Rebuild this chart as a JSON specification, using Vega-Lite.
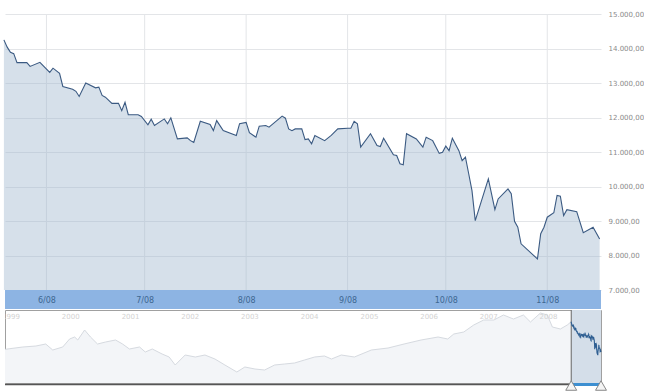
{
  "$schema": "https://vega.github.io/schema/vega-lite/v6.json",
  "padding": {"left": 1, "top": 10, "right": 0, "bottom": 0},
  "background": "white",
  "spacing": 0,
  "config": {
    "locale": {"number": {"decimal": ",", "thousands": ".", "grouping": [3], "currency": ["", ""]}},
    "font": "DejaVu Sans",
    "view": {"stroke": null},
    "concat": {"spacing": 0},
    "axis": {"labelOverlap": false},
    "axisY": {"labelOverlap": false, "tickCount": 9}
  },
  "datasets": {
    "main": [
      {"date": "2008-05-19", "value": 14250}, {"date": "2008-05-20", "value": 14040}, {"date": "2008-05-21", "value": 13890},
      {"date": "2008-05-22", "value": 13850}, {"date": "2008-05-23", "value": 13590}, {"date": "2008-05-26", "value": 13590},
      {"date": "2008-05-27", "value": 13480}, {"date": "2008-05-30", "value": 13600}, {"date": "2008-06-02", "value": 13310},
      {"date": "2008-06-03", "value": 13430}, {"date": "2008-06-05", "value": 13280}, {"date": "2008-06-06", "value": 12900},
      {"date": "2008-06-09", "value": 12820}, {"date": "2008-06-10", "value": 12760}, {"date": "2008-06-11", "value": 12610},
      {"date": "2008-06-13", "value": 13000}, {"date": "2008-06-16", "value": 12860}, {"date": "2008-06-17", "value": 12880},
      {"date": "2008-06-18", "value": 12640}, {"date": "2008-06-19", "value": 12590}, {"date": "2008-06-21", "value": 12410},
      {"date": "2008-06-23", "value": 12410}, {"date": "2008-06-24", "value": 12200}, {"date": "2008-06-25", "value": 12440},
      {"date": "2008-06-26", "value": 12080}, {"date": "2008-06-29", "value": 12080}, {"date": "2008-06-30", "value": 12030},
      {"date": "2008-07-02", "value": 11790}, {"date": "2008-07-03", "value": 11950}, {"date": "2008-07-04", "value": 11770},
      {"date": "2008-07-07", "value": 11960}, {"date": "2008-07-08", "value": 11820}, {"date": "2008-07-09", "value": 11990},
      {"date": "2008-07-11", "value": 11380}, {"date": "2008-07-14", "value": 11410}, {"date": "2008-07-15", "value": 11330},
      {"date": "2008-07-16", "value": 11280}, {"date": "2008-07-18", "value": 11890}, {"date": "2008-07-21", "value": 11800},
      {"date": "2008-07-22", "value": 11620}, {"date": "2008-07-23", "value": 11910}, {"date": "2008-07-25", "value": 11620},
      {"date": "2008-07-29", "value": 11480}, {"date": "2008-07-30", "value": 11820}, {"date": "2008-08-01", "value": 11860},
      {"date": "2008-08-02", "value": 11560}, {"date": "2008-08-04", "value": 11430}, {"date": "2008-08-05", "value": 11750},
      {"date": "2008-08-07", "value": 11770}, {"date": "2008-08-08", "value": 11720}, {"date": "2008-08-12", "value": 12040},
      {"date": "2008-08-13", "value": 11980}, {"date": "2008-08-14", "value": 11670}, {"date": "2008-08-15", "value": 11620},
      {"date": "2008-08-16", "value": 11670}, {"date": "2008-08-18", "value": 11670}, {"date": "2008-08-19", "value": 11360},
      {"date": "2008-08-20", "value": 11380}, {"date": "2008-08-21", "value": 11240}, {"date": "2008-08-22", "value": 11480},
      {"date": "2008-08-25", "value": 11330}, {"date": "2008-08-27", "value": 11480}, {"date": "2008-08-29", "value": 11670},
      {"date": "2008-09-01", "value": 11690}, {"date": "2008-09-02", "value": 11690}, {"date": "2008-09-03", "value": 11890},
      {"date": "2008-09-04", "value": 11820}, {"date": "2008-09-05", "value": 11140}, {"date": "2008-09-08", "value": 11530},
      {"date": "2008-09-10", "value": 11190}, {"date": "2008-09-11", "value": 11160}, {"date": "2008-09-12", "value": 11400},
      {"date": "2008-09-15", "value": 10920}, {"date": "2008-09-16", "value": 10900}, {"date": "2008-09-17", "value": 10660},
      {"date": "2008-09-18", "value": 10630}, {"date": "2008-09-19", "value": 11530}, {"date": "2008-09-22", "value": 11380},
      {"date": "2008-09-24", "value": 11140}, {"date": "2008-09-25", "value": 11430}, {"date": "2008-09-27", "value": 11330},
      {"date": "2008-09-29", "value": 10960}, {"date": "2008-09-30", "value": 10990}, {"date": "2008-10-01", "value": 11170},
      {"date": "2008-10-02", "value": 11040}, {"date": "2008-10-03", "value": 11400}, {"date": "2008-10-05", "value": 11040},
      {"date": "2008-10-06", "value": 10750}, {"date": "2008-10-07", "value": 10850}, {"date": "2008-10-08", "value": 10370},
      {"date": "2008-10-09", "value": 9880}, {"date": "2008-10-10", "value": 9010}, {"date": "2008-10-14", "value": 10220},
      {"date": "2008-10-16", "value": 9330}, {"date": "2008-10-17", "value": 9640}, {"date": "2008-10-20", "value": 9930},
      {"date": "2008-10-21", "value": 9790}, {"date": "2008-10-22", "value": 8990}, {"date": "2008-10-23", "value": 8820},
      {"date": "2008-10-24", "value": 8340}, {"date": "2008-10-29", "value": 7900}, {"date": "2008-10-30", "value": 8630},
      {"date": "2008-10-31", "value": 8820}, {"date": "2008-11-01", "value": 9110}, {"date": "2008-11-03", "value": 9240},
      {"date": "2008-11-04", "value": 9740}, {"date": "2008-11-05", "value": 9720}, {"date": "2008-11-06", "value": 9160},
      {"date": "2008-11-07", "value": 9330}, {"date": "2008-11-10", "value": 9270}, {"date": "2008-11-12", "value": 8660},
      {"date": "2008-11-15", "value": 8820}, {"date": "2008-11-17", "value": 8480}
    ],
    "nav": [
      {"date": "1998-11-25", "value": 9000}, {"date": "1998-12-25", "value": 9130}, {"date": "1999-03-14", "value": 9450},
      {"date": "1999-06-02", "value": 9640}, {"date": "1999-08-01", "value": 10020}, {"date": "1999-09-13", "value": 8880},
      {"date": "1999-11-13", "value": 9450}, {"date": "1999-12-25", "value": 10970}, {"date": "2000-01-25", "value": 11350},
      {"date": "2000-02-13", "value": 10780}, {"date": "2000-03-26", "value": 12680}, {"date": "2000-05-01", "value": 11350},
      {"date": "2000-06-13", "value": 10020}, {"date": "2000-08-01", "value": 10400}, {"date": "2000-10-01", "value": 10780},
      {"date": "2000-11-13", "value": 10020}, {"date": "2000-12-25", "value": 9070}, {"date": "2001-02-25", "value": 9450},
      {"date": "2001-04-01", "value": 8500}, {"date": "2001-05-14", "value": 9070}, {"date": "2001-07-13", "value": 8120},
      {"date": "2001-08-25", "value": 7550}, {"date": "2001-10-01", "value": 6030}, {"date": "2001-12-01", "value": 7930},
      {"date": "2002-02-01", "value": 7550}, {"date": "2002-04-01", "value": 7930}, {"date": "2002-06-01", "value": 7170},
      {"date": "2002-08-01", "value": 6030}, {"date": "2002-10-13", "value": 4700}, {"date": "2002-12-01", "value": 5650},
      {"date": "2003-02-01", "value": 5270}, {"date": "2003-04-01", "value": 5080}, {"date": "2003-06-01", "value": 6030},
      {"date": "2003-08-01", "value": 6220}, {"date": "2003-10-01", "value": 6410}, {"date": "2003-12-01", "value": 6980},
      {"date": "2004-02-01", "value": 7550}, {"date": "2004-04-01", "value": 7740}, {"date": "2004-05-14", "value": 7170},
      {"date": "2004-07-13", "value": 7930}, {"date": "2004-10-01", "value": 7550}, {"date": "2005-01-13", "value": 8880},
      {"date": "2005-04-25", "value": 9260}, {"date": "2005-08-01", "value": 10020}, {"date": "2005-11-13", "value": 10780},
      {"date": "2006-02-25", "value": 11350}, {"date": "2006-04-25", "value": 10970}, {"date": "2006-06-01", "value": 11920},
      {"date": "2006-08-01", "value": 12300}, {"date": "2006-10-01", "value": 13630}, {"date": "2006-12-01", "value": 14580},
      {"date": "2007-02-01", "value": 14580}, {"date": "2007-04-01", "value": 15530}, {"date": "2007-06-01", "value": 14770},
      {"date": "2007-08-01", "value": 15530}, {"date": "2007-09-13", "value": 14200}, {"date": "2007-11-13", "value": 15910},
      {"date": "2007-12-25", "value": 15530}, {"date": "2008-01-25", "value": 13250}, {"date": "2008-03-14", "value": 12870},
      {"date": "2008-04-25", "value": 13630}, {"date": "2008-05-19", "value": 14250}
    ],
    "months": [
      {"date": "2008-06-01"}, {"date": "2008-07-01"}, {"date": "2008-08-01"},
      {"date": "2008-09-01"}, {"date": "2008-10-01"}, {"date": "2008-11-01"}
    ],
    "years": [
      {"date": "1999-01-01", "label": "1999"}, {"date": "2000-01-01", "label": "2000"}, {"date": "2001-01-01", "label": "2001"},
      {"date": "2002-01-01", "label": "2002"}, {"date": "2003-01-01", "label": "2003"}, {"date": "2004-01-01", "label": "2004"},
      {"date": "2005-01-01", "label": "2005"}, {"date": "2006-01-01", "label": "2006"}, {"date": "2007-01-01", "label": "2007"},
      {"date": "2008-01-01", "label": "2008"}
    ],
    "handles": [
      {"date": "2008-05-19T08:00:00Z"}, {"date": "2008-11-17T10:00:00Z"}
    ]
  },
  "vconcat": [
    {
      "width": 596,
      "height": 295,
      "encoding": {
        "y": {"type": "quantitative",
          "scale": {"domain": [6450, 15000], "zero": false, "nice": false},
          "axis": {
            "orient": "right", "values": [7000, 8000, 9000, 10000, 11000, 12000, 13000, 14000, 15000],
            "format": ",.2f", "grid": true, "gridColor": "#e3e5e8", "domain": false, "ticks": false, "tickSize": 0,
            "labelPadding": 7, "labelAlign": "left", "labelBaseline": "middle", "labelColor": "#8a8a8a",
            "labelFontSize": 7, "labelFont": "DejaVu Sans", "labelOverlap": false, "labelFlush": false, "labelBound": false,
            "title": null, "zindex": 0
          }
        }
      },
      "layer": [
        {
          "data": {"name": "months"},
          "mark": {"type": "rule", "color": "#e3e5e8", "strokeWidth": 1},
          "encoding": {
            "x": {"field": "date", "type": "temporal",
              "scale": {"type": "utc", "domain": [{"year": 2008, "month": 5, "date": 19, "hours": 8, "utc": true}, {"year": 2008, "month": 11, "date": 17, "hours": 10, "utc": true}]},
              "axis": {
                "orient": "bottom", "grid": false, "domain": false, "ticks": false, "tickSize": 0,
                "values": [
                  {"year": 2008, "month": 6, "date": 1, "utc": true}, {"year": 2008, "month": 7, "date": 1, "utc": true},
                  {"year": 2008, "month": 8, "date": 1, "utc": true}, {"year": 2008, "month": 9, "date": 1, "utc": true},
                  {"year": 2008, "month": 10, "date": 1, "utc": true}, {"year": 2008, "month": 11, "date": 1, "utc": true}
                ],
                "format": "%-m/%y", "labelColor": "#3e6791", "labelFontSize": 8, "labelFont": "DejaVu Sans",
                "labelBaseline": "middle", "labelPadding": -9, "labelOverlap": false, "labelFlush": false,
                "title": null, "zindex": 2
              }
            },
            "y": {"datum": 15000, "type": "quantitative"},
            "y2": {"datum": 7000}
          }
        },
        {
          "data": {"name": "main"},
          "mark": {"type": "area", "fill": "#9db4cc", "fillOpacity": 0.42},
          "encoding": {
            "x": {"field": "date", "type": "temporal"},
            "y": {"field": "value", "type": "quantitative"},
            "y2": {"datum": 7000}
          }
        },
        {
          "data": {"name": "main"},
          "mark": {"type": "line", "stroke": "#3b5a82", "strokeWidth": 1.1},
          "encoding": {
            "x": {"field": "date", "type": "temporal"},
            "y": {"field": "value", "type": "quantitative"}
          }
        },
        {
          "data": {"values": [{}]},
          "mark": {"type": "rect", "fill": "#8db4e3"},
          "encoding": {
            "x": {"datum": {"year": 2008, "month": 5, "date": 19, "hours": 8, "utc": true}, "type": "temporal"},
            "x2": {"datum": {"year": 2008, "month": 11, "date": 17, "hours": 10, "utc": true}},
            "y": {"datum": 7000, "type": "quantitative"},
            "y2": {"datum": 6450}
          }
        }
      ]
    },
    {
      "width": 596,
      "height": 73,
      "view": {"stroke": "#a0a0a0"},
      "layer": [
        {
          "data": {"name": "nav"},
          "mark": {"type": "area", "fill": "#f3f5f8"},
          "encoding": {
            "x": {"field": "date", "type": "temporal",
              "scale": {"type": "utc", "domain": [{"year": 1998, "month": 11, "date": 25, "utc": true}, {"year": 2008, "month": 11, "date": 17, "hours": 10, "utc": true}]},
              "axis": null},
            "y": {"field": "value", "type": "quantitative", "scale": {"domain": [2610, 16480], "zero": false, "nice": false}, "axis": null},
            "y2": {"datum": 2610}
          }
        },
        {
          "data": {"name": "nav"},
          "mark": {"type": "line", "stroke": "#d6dae0", "strokeWidth": 1},
          "encoding": {
            "x": {"field": "date", "type": "temporal"},
            "y": {"field": "value", "type": "quantitative"}
          }
        },
        {
          "data": {"values": [{}]},
          "mark": {"type": "rect", "fill": "#d4dee9"},
          "encoding": {
            "x": {"datum": {"year": 2008, "month": 5, "date": 19, "hours": 8, "utc": true}, "type": "temporal"},
            "x2": {"datum": {"year": 2008, "month": 11, "date": 17, "hours": 10, "utc": true}},
            "y": {"datum": 16480, "type": "quantitative"},
            "y2": {"datum": 2610}
          }
        },
        {
          "data": {"values": [{}]},
          "mark": {"type": "rule", "color": "#666666", "strokeWidth": 1},
          "encoding": {
            "x": {"datum": {"year": 2008, "month": 5, "date": 19, "hours": 8, "utc": true}, "type": "temporal"},
            "y": {"datum": 16480, "type": "quantitative"},
            "y2": {"datum": 2610}
          }
        },
        {
          "data": {"name": "main"},
          "mark": {"type": "line", "stroke": "#2f5f92", "strokeWidth": 1.1},
          "encoding": {
            "x": {"field": "date", "type": "temporal"},
            "y": {"field": "value", "type": "quantitative"}
          }
        },
        {
          "data": {"name": "years"},
          "mark": {"type": "text", "color": "#d2d2d2", "fontSize": 7, "font": "DejaVu Sans", "align": "center", "baseline": "middle", "clip": true},
          "encoding": {
            "x": {"field": "date", "type": "temporal"},
            "y": {"datum": 15150, "type": "quantitative"},
            "text": {"field": "label"}
          }
        },
        {
          "data": {"values": [{}]},
          "mark": {"type": "rule", "color": "#555555", "strokeWidth": 1.5},
          "encoding": {
            "x": {"datum": {"year": 1998, "month": 11, "date": 25, "utc": true}, "type": "temporal"},
            "x2": {"datum": {"year": 2008, "month": 5, "date": 19, "hours": 8, "utc": true}},
            "y": {"datum": 2330, "type": "quantitative"}
          }
        },
        {
          "data": {"values": [{}]},
          "mark": {"type": "rule", "color": "#3d8fd1", "strokeWidth": 3},
          "encoding": {
            "x": {"datum": {"year": 2008, "month": 5, "date": 19, "hours": 8, "utc": true}, "type": "temporal"},
            "x2": {"datum": {"year": 2008, "month": 11, "date": 17, "hours": 10, "utc": true}},
            "y": {"datum": 2330, "type": "quantitative"}
          }
        },
        {
          "data": {"name": "handles"},
          "mark": {"type": "point", "shape": "triangle-up", "size": 120, "filled": true, "fill": "#f4f4f4", "stroke": "#888888", "strokeWidth": 1, "opacity": 1},
          "encoding": {
            "x": {"field": "date", "type": "temporal"},
            "y": {"datum": 2130, "type": "quantitative"}
          }
        }
      ]
    }
  ]
}
